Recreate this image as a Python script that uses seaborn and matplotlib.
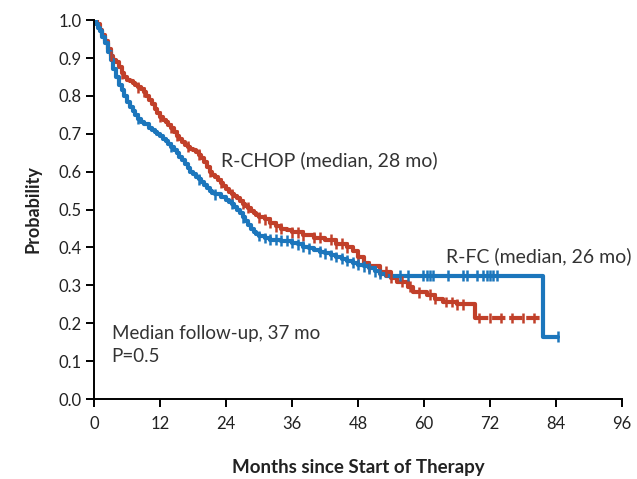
import numpy as np
import pandas as pd
import matplotlib
matplotlib.use("Agg")
import matplotlib.pyplot as plt
import seaborn as sns

# Kaplan-Meier step estimates (months, survival probability)
rfc_time = [0, 0.3, 0.7, 1, 1.5, 2, 2.5, 3, 3.5, 4, 4.5, 5, 5.5, 6, 6.5, 7, 7.5, 8,
            8.5, 9, 10, 10.5, 11, 11.5, 12, 12.5, 13, 13.5, 14, 14.5, 15, 15.5, 16,
            16.5, 17, 17.5, 18, 18.5, 19, 19.5, 20, 20.5, 21, 21.5, 22, 23, 24, 24.5,
            25, 25.5, 26, 26.5, 27, 27.5, 28, 28.5, 29, 29.5, 30, 31, 32, 34, 36, 37,
            38, 39, 40, 41, 42, 43, 44, 45, 46, 47, 48, 49, 50, 51, 52, 53, 81.6, 84.4]
rfc_surv = [1.0, 0.99, 0.98, 0.97, 0.955, 0.94, 0.915, 0.895, 0.87, 0.85, 0.83,
            0.815, 0.80, 0.785, 0.77, 0.76, 0.75, 0.74, 0.73, 0.725, 0.715, 0.71,
            0.705, 0.70, 0.695, 0.687, 0.68, 0.672, 0.665, 0.658, 0.65, 0.64, 0.63,
            0.62, 0.61, 0.60, 0.595, 0.587, 0.58, 0.572, 0.565, 0.557, 0.55, 0.545,
            0.54, 0.532, 0.525, 0.52, 0.515, 0.508, 0.50, 0.49, 0.48, 0.47, 0.458,
            0.448, 0.44, 0.435, 0.43, 0.425, 0.42, 0.418, 0.412, 0.408, 0.402, 0.398,
            0.393, 0.389, 0.385, 0.38, 0.375, 0.37, 0.365, 0.36, 0.355, 0.35, 0.345,
            0.337, 0.33, 0.325, 0.164, 0.164]

rchop_time = [0, 0.5, 1, 1.5, 2, 2.5, 3, 3.5, 4, 4.5, 5, 5.5, 6, 6.5, 7, 7.5, 8, 8.5,
              9, 9.5, 10, 10.5, 11, 11.5, 12, 12.5, 13, 13.5, 14, 14.5, 15, 15.5, 16,
              16.5, 17, 17.5, 18, 18.5, 19, 19.5, 20, 20.5, 21, 21.5, 22, 22.5, 23,
              23.5, 24, 24.5, 25, 25.5, 26, 26.5, 27, 27.5, 28, 28.5, 29, 29.5, 30,
              31, 32, 33, 34, 35, 36, 38, 40, 42, 44, 46, 47, 48, 49, 50, 52, 54, 55,
              57, 58, 60.5, 62, 63.5, 66, 69.3, 81.5]
rchop_surv = [1.0, 0.99, 0.975, 0.96, 0.945, 0.925, 0.905, 0.895, 0.89, 0.875, 0.86,
              0.85, 0.843, 0.838, 0.833, 0.828, 0.823, 0.818, 0.81, 0.80, 0.79, 0.778,
              0.765, 0.755, 0.745, 0.737, 0.73, 0.722, 0.715, 0.705, 0.695, 0.685,
              0.677, 0.671, 0.666, 0.661, 0.656, 0.651, 0.645, 0.635, 0.625, 0.612,
              0.60, 0.592, 0.585, 0.577, 0.57, 0.562, 0.555, 0.547, 0.54, 0.535, 0.53,
              0.522, 0.515, 0.51, 0.505, 0.497, 0.49, 0.485, 0.48, 0.474, 0.465,
              0.456, 0.45, 0.445, 0.44, 0.432, 0.426, 0.42, 0.41, 0.40, 0.39, 0.376,
              0.36, 0.35, 0.336, 0.32, 0.31, 0.296, 0.282, 0.275, 0.265, 0.256, 0.25,
              0.214, 0.214]

# Censoring times
rfc_censor = [8, 14, 19, 22, 25, 27, 30, 31, 32, 33, 34, 35, 36, 37, 38, 39, 41, 42,
              43, 44, 45, 46, 47, 48, 49, 50, 51, 52, 55.6, 57.1, 59.8, 60.5, 61.1,
              61.6, 64.4, 67.1, 67.8, 69.6, 70.7, 71.5, 72, 72.5, 73.3, 84.4]
rchop_censor = [3, 5, 8, 9, 12, 14, 15, 17, 19, 21, 23, 25, 27, 28, 30, 31, 32, 33,
                34, 36, 37, 38, 40, 41, 43, 44, 45, 46, 48, 50, 52, 53, 54, 56, 57.5,
                59, 61, 62, 64, 65, 66, 67, 70, 72, 74, 76, 78, 80]

x_ticks = [0, 12, 24, 36, 48, 60, 72, 84, 96]
y_ticks = [0.0, 0.1, 0.2, 0.3, 0.4, 0.5, 0.6, 0.7, 0.8, 0.9, 1.0]

RED = "#C1402A"
BLUE = "#1C76BC"

sns.set_theme(style="white")
plt.rcParams["font.family"] = ["Lato", "DejaVu Sans"]


def step_value(times, surv, t):
    idx = np.searchsorted(np.asarray(times), t, side="right") - 1
    return np.asarray(surv)[idx]


fig = plt.figure(figsize=(6.37, 4.79), dpi=100)
ax = fig.add_axes([0.1476, 0.167, 0.829, 0.791])

# R-CHOP: solid through the last event, dashed tail afterwards
n_solid = len(rchop_time) - 1
curves = pd.concat([
    pd.DataFrame({"time": rfc_time, "surv": rfc_surv, "arm": "R-FC"}),
    pd.DataFrame({"time": rchop_time[:n_solid], "surv": rchop_surv[:n_solid],
                  "arm": "R-CHOP"}),
])
sns.lineplot(data=curves, x="time", y="surv", hue="arm", estimator=None,
             sort=False, drawstyle="steps-post", linewidth=3.0,
             palette={"R-FC": BLUE, "R-CHOP": RED}, hue_order=["R-CHOP", "R-FC"],
             legend=False, ax=ax, zorder=3)
ax.plot(rchop_time[-2:], rchop_surv[-2:], color=RED, linewidth=3.0,
        dashes=(3.2, 0.9), zorder=3)

censor = pd.concat([
    pd.DataFrame({"time": rchop_censor,
                  "surv": [step_value(rchop_time, rchop_surv, t) for t in rchop_censor],
                  "arm": "R-CHOP"}),
    pd.DataFrame({"time": rfc_censor,
                  "surv": [step_value(rfc_time, rfc_surv, t) for t in rfc_censor],
                  "arm": "R-FC"}),
])
sns.scatterplot(data=censor, x="time", y="surv", hue="arm", marker="|", s=60,
                linewidth=1.8, palette={"R-FC": BLUE, "R-CHOP": RED},
                legend=False, ax=ax, zorder=4)

ax.set_xlim(0, 96)
ax.set_ylim(0, 1.0)
ax.set_xticks(x_ticks)
ax.set_xticklabels([str(v) for v in x_ticks])
ax.set_yticks(y_ticks)
ax.set_yticklabels([f"{v:.1f}" for v in y_ticks])
for side in ("top", "right"):
    ax.spines[side].set_visible(False)
for side in ("left", "bottom"):
    ax.spines[side].set_color("black")
    ax.spines[side].set_linewidth(1.4)
    ax.spines[side].set_zorder(5)
ax.tick_params(axis="both", which="major", direction="out", length=6, width=1.4,
               color="black", labelsize=12, labelcolor="#222222", pad=3,
               bottom=True, left=True)
ax.tick_params(axis="x", pad=6)
ax.set_xlabel("Months since Start of Therapy", fontsize=13.5, fontweight="bold",
              color="#222222", labelpad=20)
ax.set_ylabel("Probability", fontsize=13, fontweight="bold", color="#222222",
              labelpad=12)
ax.grid(False)

ax.text(23.0, 0.63, "R-CHOP (median, 28 mo)", fontsize=14, color="#333333",
        va="center", ha="left")
ax.text(64.0, 0.377, "R-FC (median, 26 mo)", fontsize=14, color="#333333",
        va="center", ha="left", clip_on=False)
ax.text(3.2, 0.174, "Median follow-up, 37 mo", fontsize=13.5, color="#333333",
        va="center", ha="left")
ax.text(3.2, 0.111, "P=0.5", fontsize=13.5, color="#333333", va="center", ha="left")

fig.savefig("out.png", dpi=100)
